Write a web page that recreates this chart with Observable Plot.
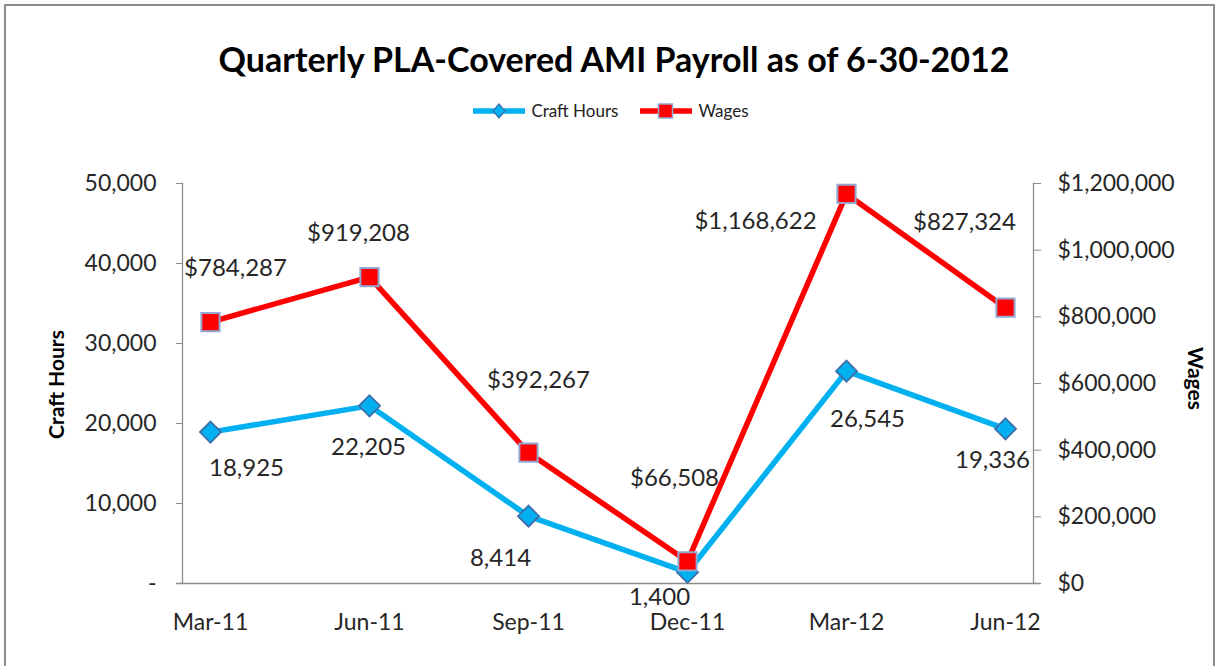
<!DOCTYPE html>
<html>
<head>
<meta charset="utf-8">
<script src="https://cdn.jsdelivr.net/npm/d3@7"></script>
<script src="https://cdn.jsdelivr.net/npm/@observablehq/plot@0.6"></script>
<style>
  html, body { margin: 0; padding: 0; background: #fff; width: 1220px; height: 666px; overflow: hidden; font-family: Lato, "Open Sans", sans-serif; }
  #wrap { position: relative; width: 1220px; height: 666px; }
  #border { position: absolute; left: 4px; top: 4px; width: 1211px; height: 700px; border: 2px solid #8c8c8c; box-sizing: border-box; }
  #title { position: absolute; left: 0; width: 1228px; top: 38px; text-align: center; font-weight: 700; font-size: 34px; color: #000; }
  #legend { position: absolute; left: 0; width: 1222px; top: 100px; text-align: center; font-size: 17px; color: #222; }
  #legend span.item { display: inline-flex; align-items: center; margin: 0 11px; }
  #legend svg { margin-right: 6px; }
  .ytitle { position: absolute; font-weight: 700; font-size: 21px; color: #000; white-space: nowrap; }
  #chart { position: absolute; left: 0; top: 0; }
</style>
</head>
<body>
<div id="wrap">
  <div id="border"></div>
  <div id="chart"></div>
  <div id="title"></div>
  <div id="legend"></div>
  <div class="ytitle" id="ltitle"></div>
  <div class="ytitle" id="rtitle"></div>
</div>
<script>
// ---- data ----
const quarters = ["Mar-11", "Jun-11", "Sep-11", "Dec-11", "Mar-12", "Jun-12"];
const craftHours = [18925, 22205, 8414, 1400, 26545, 19336];
const wages = [784287, 919208, 392267, 66508, 1168622, 827324];
const hoursTicks = [0, 10000, 20000, 30000, 40000, 50000];
const wageTicks = [0, 200000, 400000, 600000, 800000, 1000000, 1200000];
const titleText = "Quarterly PLA-Covered AMI Payroll as of 6-30-2012";
const seriesNames = ["Craft Hours", "Wages"];

// ---- layout / style (not data) ----
const hoursColor = "#00B0F0", wagesColor = "#FF0000";
const ratio = 1200000 / 50000; // wage axis max / hours axis max
const hoursLabelNudge = [[36, 36], [-1, 41], [-28, 42], [-28, 25], [21, 48], [-13, 32]];
const wagesLabelNudge = [[25, -54], [-11, -44], [10, -72], [-13, -83], [-91, 27], [-41, -85]];

const hoursData = quarters.map((q, i) => ({q, v: craftHours[i]}));
const wagesData = quarters.map((q, i) => ({q, v: wages[i], y: wages[i] / ratio}));

const fmt = d3.format(",");
const labelFont = 24;
const tickFont = 23;

const hoursLabels = hoursData.map((d, i) => Plot.text([d], {
  x: "q", y: "v", text: d => fmt(d.v), dx: hoursLabelNudge[i][0], dy: hoursLabelNudge[i][1],
  fontSize: labelFont, fill: "#262626", lineAnchor: "middle"
}));
const wagesLabels = wagesData.map((d, i) => Plot.text([d], {
  x: "q", y: "y", text: d => "$" + fmt(d.v), dx: wagesLabelNudge[i][0], dy: wagesLabelNudge[i][1],
  fontSize: labelFont, fill: "#262626", lineAnchor: "middle"
}));

const plot = Plot.plot({
  width: 1220,
  height: 666,
  marginTop: 183,
  marginBottom: 83,
  marginLeft: 182,
  marginRight: 187,
  style: {fontFamily: "Lato, 'Open Sans', sans-serif", fontSize: tickFont + "px", background: "transparent", color: "#262626"},
  x: {type: "point", domain: quarters, padding: 0.17},
  y: {domain: [0, 50000]},
  marks: [
    Plot.frame({anchor: "left", stroke: "#8c8c8c", strokeWidth: 1.3}),
    Plot.frame({anchor: "right", stroke: "#8c8c8c", strokeWidth: 1.3}),
    Plot.ruleY([0], {stroke: "#8c8c8c", strokeWidth: 1.3, insetLeft: -6, insetRight: -7}),
    Plot.axisY({
      anchor: "left", ticks: hoursTicks, tickSize: 6, tickPadding: 20, stroke: "#8c8c8c",
      tickFormat: d => d === 0 ? "-" : fmt(d), label: null, fontSize: tickFont, fill: "#262626"
    }),
    Plot.axisY({
      anchor: "right", ticks: wageTicks.map(w => w / ratio), tickSize: 7, tickPadding: 17, stroke: "#8c8c8c",
      tickFormat: d => "$" + fmt(Math.round(d * ratio)), label: null, fontSize: tickFont, fill: "#262626"
    }),
    Plot.axisX({anchor: "bottom", tickSize: 0, tickPadding: 30, label: null, fontSize: tickFont, fill: "#262626"}),
    Plot.line(hoursData, {x: "q", y: "v", stroke: hoursColor, strokeWidth: 5.5}),
    Plot.line(wagesData, {x: "q", y: "y", stroke: wagesColor, strokeWidth: 5.5}),
    Plot.dot(hoursData, {x: "q", y: "v", symbol: "diamond2", r: 9.5, fill: hoursColor, stroke: "#3F6FA8", strokeWidth: 1.8}),
    Plot.dot(wagesData, {x: "q", y: "y", symbol: "square", r: 10.3, fill: wagesColor, stroke: "#93A9D3", strokeWidth: 2}),
    ...hoursLabels,
    ...wagesLabels
  ]
});
document.getElementById("chart").appendChild(plot);

document.getElementById("title").textContent = titleText;

const legendSvg = (color, kind) => {
  const marker = kind === "diamond"
    ? `<path d="M26,3 L32,10 L26,17 L20,10 Z" fill="${color}" stroke="#3F6FA8" stroke-width="1.2"/>`
    : `<rect x="18.5" y="3" width="14" height="14" fill="${color}" stroke="#93A9D3" stroke-width="1.5"/>`;
  return `<svg width="52" height="20"><line x1="0" y1="10" x2="52" y2="10" stroke="${color}" stroke-width="5.5"/>${marker}</svg>`;
};
document.getElementById("legend").innerHTML =
  `<span class="item">${legendSvg(hoursColor, "diamond")}${seriesNames[0]}</span>` +
  `<span class="item">${legendSvg(wagesColor, "square")}${seriesNames[1]}</span>`;

const lt = document.getElementById("ltitle");
lt.textContent = seriesNames[0];
const rt = document.getElementById("rtitle");
rt.textContent = seriesNames[1];
const place = (el, cx, cy, deg) => {
  const w = el.offsetWidth, h = el.offsetHeight;
  el.style.left = (cx - w / 2) + "px";
  el.style.top = (cy - h / 2) + "px";
  el.style.transform = `rotate(${deg}deg)`;
};
place(lt, 55, 384, -90);
place(rt, 1196, 378, 90);
</script>
</body>
</html>
